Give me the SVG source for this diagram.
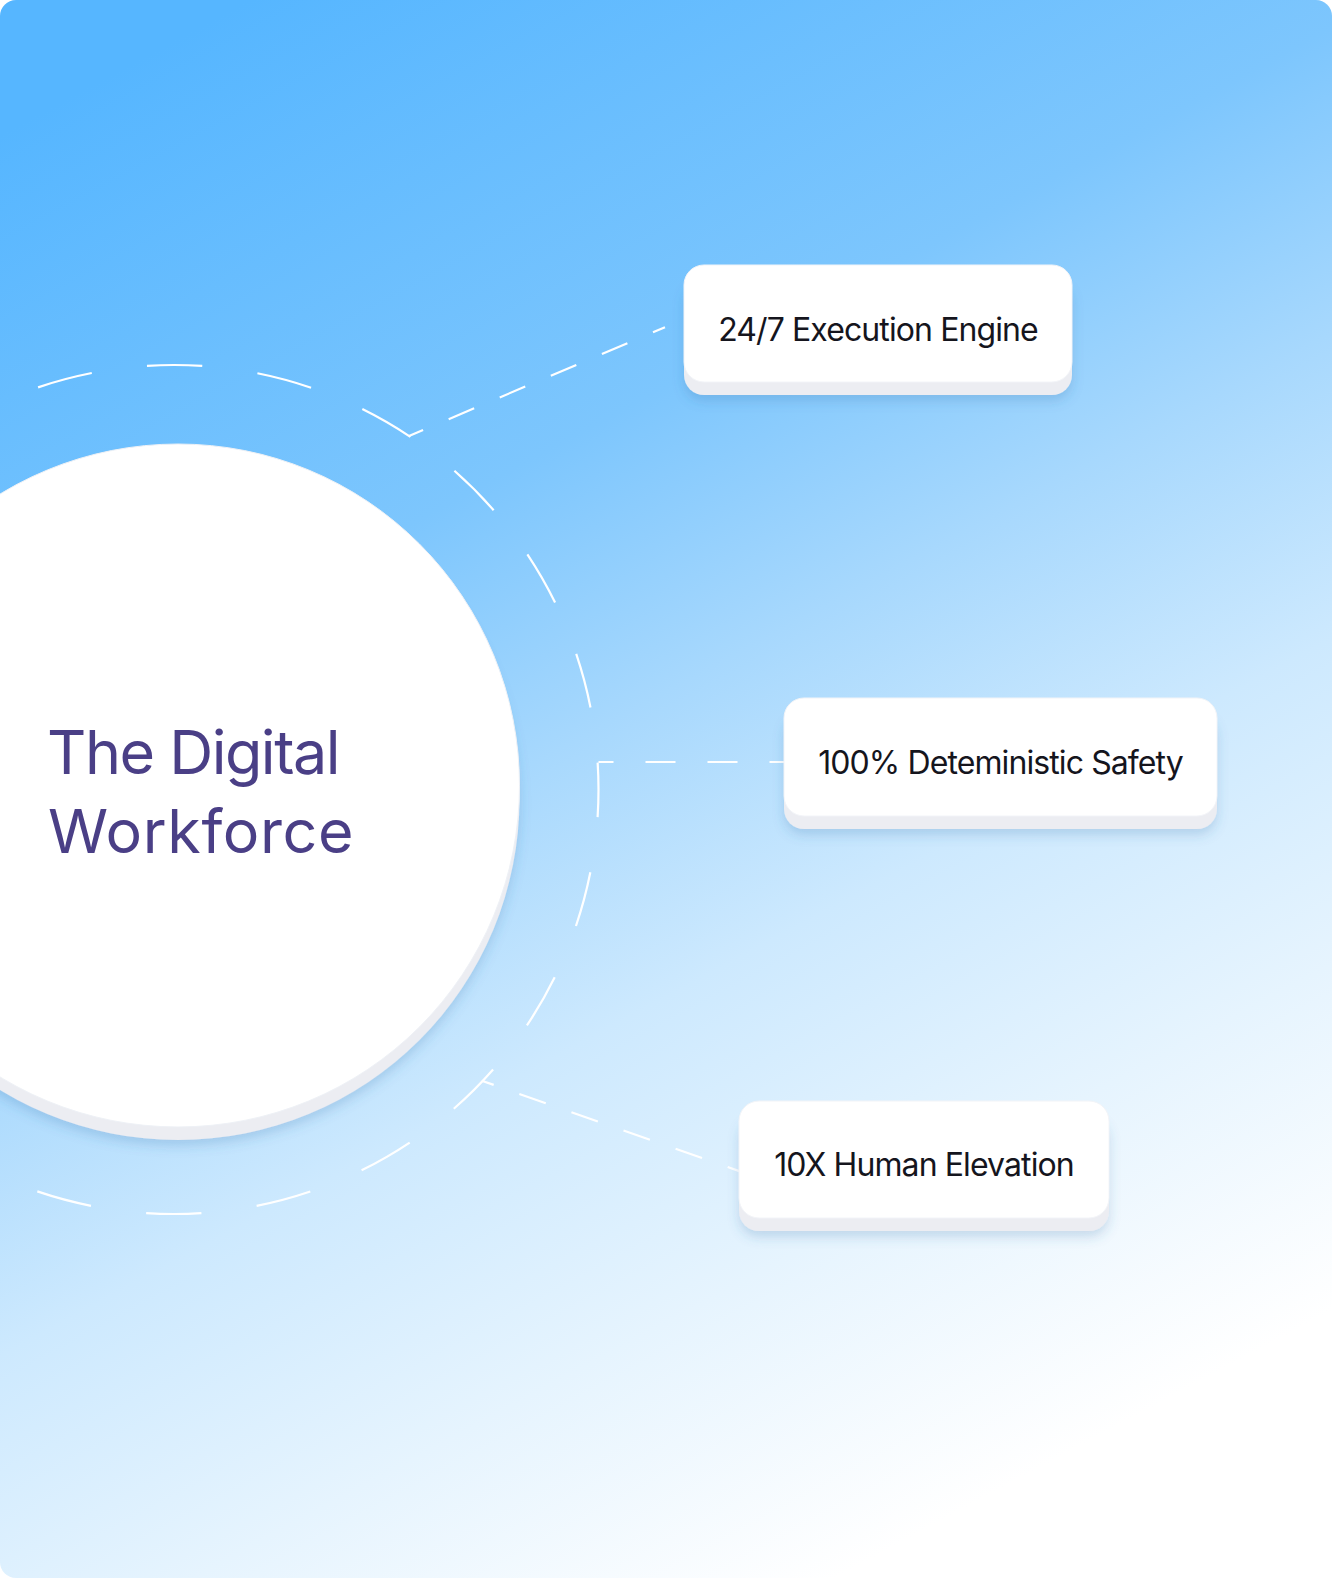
<svg xmlns="http://www.w3.org/2000/svg" width="1332" height="1578" viewBox="0 0 1332 1578">
  <defs>
    <linearGradient id="bg" gradientUnits="userSpaceOnUse" x1="250" y1="0" x2="1100" y2="1578">
      <stop offset="0" stop-color="#56B6FF"/>
      <stop offset="0.3" stop-color="#7DC6FD"/>
      <stop offset="0.45" stop-color="#A7D8FD"/>
      <stop offset="0.6" stop-color="#CDE9FE"/>
      <stop offset="0.76" stop-color="#E6F4FE"/>
      <stop offset="0.93" stop-color="#FFFFFF"/>
    </linearGradient>
    <filter id="shadow" x="-20%" y="-20%" width="140%" height="150%">
      <feDropShadow dx="0" dy="6" stdDeviation="6" flood-color="#2F6FA8" flood-opacity="0.22"/>
    </filter>
    <style>
      .dash { fill: none; stroke: #FFFFFF; stroke-width: 2.2; }
      .base { fill: #ECEDF2; }
      .card { fill: #FFFFFF; stroke: #F2F4F8; stroke-width: 1; }
      .label { font-family: Inter, "Noto Sans", "Liberation Sans", sans-serif; font-size: 32px; letter-spacing: -0.9px; fill: #15151D; text-anchor: middle; }
      .title { font-family: Inter, "Noto Sans", "Liberation Sans", sans-serif; font-size: 61px; fill: #4A3F86; letter-spacing: -1.5px; }
    </style>
  </defs>

  <rect x="0" y="0" width="1332" height="1578" fill="#FFFFFF"/>
  <rect id="background" x="0" y="0" width="1332" height="1578" rx="16" ry="16" fill="url(#bg)"/>

  <g id="orbit">
    <path class="dash" d="M598.5,789.5 A424.5,424.5 0 1 1 -250.5,789.5 A424.5,424.5 0 1 1 598.5,789.5" stroke-dasharray="55.57 55.57" stroke-dashoffset="27.78"/>
  </g>

  <g id="connectors">
    <path class="dash" d="M409,436 L665,327.2" stroke-dasharray="27.7 27.8" stroke-dashoffset="12.4"/>
    <path class="dash" d="M598.5,762 L784,762" stroke-dasharray="30 32" stroke-dashoffset="15"/>
    <path class="dash" d="M481.7,1080.7 L740,1171.4" stroke-dasharray="28 27.2" stroke-dashoffset="15.3"/>
  </g>

  <g id="hub">
    <circle cx="178" cy="798.5" r="341.5" class="base" filter="url(#shadow)"/>
    <circle cx="178" cy="785.5" r="341.5" fill="#FFFFFF" stroke="#EEF1F6" stroke-width="1"/>
    <text class="title" x="47" y="774">The Digital</text>
    <text class="title" x="48" y="853" style="letter-spacing:0.6px">Workforce</text>
  </g>

  <g id="node-execution">
    <rect x="684" y="278" width="388" height="117" rx="20" class="base" filter="url(#shadow)"/>
    <rect x="684" y="265" width="388" height="117" rx="20" class="card"/>
    <text class="label" x="878" y="341">24/7 Execution Engine</text>
  </g>

  <g id="node-safety">
    <rect x="784" y="711" width="433" height="118" rx="20" class="base" filter="url(#shadow)"/>
    <rect x="784" y="698" width="433" height="118" rx="20" class="card"/>
    <text class="label" x="1000.5" y="774">100% Deteministic Safety</text>
  </g>

  <g id="node-elevation">
    <rect x="739" y="1114" width="370" height="117" rx="20" class="base" filter="url(#shadow)"/>
    <rect x="739" y="1101" width="370" height="117" rx="20" class="card"/>
    <text class="label" x="924" y="1176">10X Human Elevation</text>
  </g>
</svg>
